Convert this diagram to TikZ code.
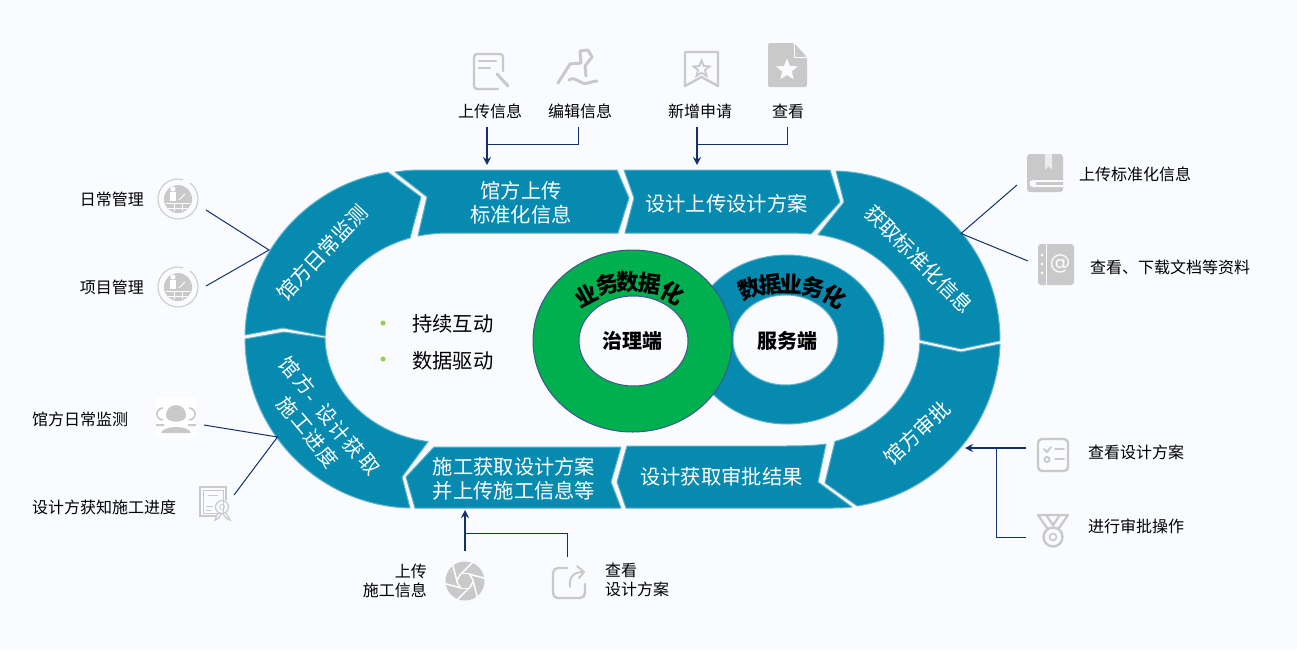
\documentclass[tikz,border=0pt]{standalone}
\usepackage{fontspec}
\usetikzlibrary{arrows.meta,shapes.geometric}
\setmainfont{Noto Sans CJK SC}
\newfontfamily\cjk{Noto Sans CJK SC}
\definecolor{bgc}{HTML}{F9FBFF}
\definecolor{teal0}{HTML}{078AAF}
\definecolor{tealedge}{HTML}{5FB2CC}
\definecolor{ringgreen}{HTML}{00B04F}
\definecolor{ringedge}{HTML}{3F5596}
\definecolor{navy0}{HTML}{12306B}
\definecolor{icongray}{HTML}{C9C9C9}
\definecolor{bulletgreen}{HTML}{92D050}
\tikzset{
  seg/.style={fill=teal0,draw=tealedge,line width=1pt,line join=round},
  segtext/.style={font=\cjk\fontsize{20.3}{24}\selectfont,text=white,inner sep=0pt,align=center},
  segchar/.style={font=\cjk\fontsize{20}{20}\selectfont,text=white,inner sep=0pt},
  lab/.style={font=\cjk\fontsize{16}{19.5}\selectfont,text=black,inner sep=0pt},
  biglab/.style={font=\cjk\fontsize{20.3}{24}\selectfont,text=black,inner sep=0pt},
  hublab/.style={font=\cjk\bfseries\fontsize{20}{24}\selectfont,text=black,inner sep=0pt},
  arclab/.style={font=\cjk\bfseries\fontsize{22.5}{22.5}\selectfont,text=black,inner sep=0pt},
  conn/.style={draw=navy0,line width=1pt},
  stem/.style={draw=navy0,line width=1.5pt,-{Stealth[length=8pt,width=8pt]}},
  iconl/.style={draw=icongray,line width=2.4pt,line join=round,line cap=round,fill=none},
  iconf/.style={fill=icongray,draw=none},
  starshape/.style={star,star points=5,star point ratio=2.3,inner sep=0pt},
  pics/mgmticon/.style={code={
    \draw[icongray,line width=1pt] (12,-16) arc[start angle=53,end angle=-285,radius=20pt];
    \fill[icongray] (0,0) circle[radius=14pt];
    \fill[white] (-5,-10) circle[radius=2.6pt];
    \fill[white] (-8,-7) rectangle (-2,2);
    \draw[white,line width=0.8pt] (1,1) -- (7,-5);
    \draw[white,line width=1pt] (-12,4.5) -- (12,4.5);
    \draw[white,line width=1pt] (-4,4.5) -- (-4,12) (4,4.5) -- (4,12);
    \draw[white,line width=1pt] (-10,9) -- (10,9);
  }}
}
\begin{document}
\begin{tikzpicture}[x=1pt,y=-1pt]
\useasboundingbox (0,0) rectangle (1297,651);
\fill[bgc] (0,0) rectangle (1297,651);

% stadium segments
\draw[seg] (245,335) arc[start angle=178.6,end angle=98.85,radius=169pt] -- (421,197) -- (410,238)
  arc[start angle=107,end angle=178,x radius=120pt,y radius=106.5pt] -- (283,328) -- cycle;
\draw[seg] (395,172) .. controls (402,171) and (410,170) .. (420,170) -- (617,170) -- (629,198) -- (618,233)
  -- (450,233) .. controls (438,233) and (428,234) .. (418,236) -- (427,197) -- cycle;
\draw[seg] (624,170) -- (830,170) -- (840,202) -- (811,234) .. controls (800,233) and (790,233) .. (780,233) -- (625,233) -- (634,198) -- cycle;
\draw[seg] (836,171) arc[start angle=88.3,end angle=-0.3,radius=169pt] -- (961,349) -- (920,340)
  arc[start angle=0,end angle=81.4,x radius=120pt,y radius=106.5pt] -- (844,202) -- cycle;
\draw[seg] (1000,344) arc[start angle=-1.7,end angle=-81.15,radius=169pt] -- (825,483) -- (835,441.4)
  arc[start angle=-73,end angle=-2,x radius=120pt,y radius=106.5pt] -- (961,352) -- cycle;
\draw[seg] (627,446) -- (780,446) .. controls (795,446) and (812,446) .. (826,444) -- (818,482) -- (852,507)
  .. controls (845,508) and (838,508) .. (828,508) -- (626,508) -- (617,482) -- cycle;
\draw[seg] (434,447) -- (621,447) -- (611,482) -- (621,508) -- (415,508) -- (406,477) -- cycle;
\draw[seg] (245,339) -- (284,332) -- (325,338) arc[start angle=181,end angle=261.9,x radius=120pt,y radius=106.5pt]
  -- (402,477) -- (410,508) arc[start angle=268.6,end angle=180,radius=169pt] -- cycle;

% rings
\fill[teal0,draw=tealedge,line width=1pt] (787,339.5) ellipse[x radius=97pt,y radius=84.5pt];
\fill[bgc,draw=tealedge,line width=1pt] (785.5,340) ellipse[x radius=52.5pt,y radius=45pt];
\fill[ringgreen,draw=ringedge,line width=1pt] (632.5,341) ellipse[x radius=99.5pt,y radius=91pt];
\fill[bgc,draw=ringedge,line width=1pt] (633.5,341) ellipse[x radius=54.5pt,y radius=45pt];

% segment labels
\node[segtext] (s2) at (521,203) {馆方上传\\标准化信息};
\node[segtext] (s3) at (726.5,204) {设计上传设计方案};
\node[segtext,rotate=-45] (s4) at (919,259) {获取标准化信息};
\node[segtext,rotate=43] (s5) at (917,433) {馆方审批};
\node[segtext] (s6) at (721.5,477) {设计获取审批结果};
\node[segtext] (s7) at (514,479) {施工获取设计方案\\并上传施工信息等};
\node[segtext,rotate=47] (s1) at (322,253) {馆方日常监测};
\foreach \c/\x/\y [count=\i] in {馆/290/367,方/305/384,设/327/414,计/340/431,获/354/447,取/369/465,施/288/407,工/302/423,进/315/440,度/328/457}
  \node[segchar,rotate=-50] (s8c\i) at (\x,\y) {\c};
\node[segchar,rotate=-50] (s8d) at (308,400) {-};

% ring labels
\foreach \c/\x/\y/\r [count=\i] in {业/586/295/28,务/607/284/14,数/628/282/0,据/650/284/-8,化/672/293/-28}
  \node[arclab,rotate=\r] (ga\i) at (\x,\y) {\c};
\foreach \c/\x/\y/\r [count=\i] in {数/750/288/22,据/770/285/8,业/791/284/-2,务/813/287/-12,化/835/297/-30}
  \node[arclab,rotate=\r] (ba\i) at (\x,\y) {\c};
\node[hublab] (hubg) at (632,341) {治理端};
\node[hublab] (hubb) at (787,341) {服务端};

% bullets
\fill[bulletgreen] (383,323) circle[radius=2.5pt] (383,359) circle[radius=2.5pt];
\node[biglab,anchor=west] (b1) at (412,324) {持续互动};
\node[biglab,anchor=west] (b2) at (412,361) {数据驱动};

% labels
\node[lab] (t1) at (490,111) {上传信息};
\node[lab] (t2) at (580,111) {编辑信息};
\node[lab] (t3) at (700,111) {新增申请};
\node[lab] (t4) at (788,111) {查看};
\node[lab,anchor=east] (l1) at (144,199) {日常管理};
\node[lab,anchor=east] (l2) at (144,287) {项目管理};
\node[lab,anchor=west] (l3) at (32,419) {馆方日常监测};
\node[lab,anchor=west] (l4) at (32,507) {设计方获知施工进度};
\node[lab,anchor=west] (r1) at (1079,174) {上传标准化信息};
\node[lab,anchor=west] (r2) at (1090,267) {查看、下载文档等资料};
\node[lab,anchor=west] (r3) at (1088,452) {查看设计方案};
\node[lab,anchor=west] (r4) at (1088,526) {进行审批操作};
\node[lab,anchor=east,align=right] (u1) at (427,581) {上传\\施工信息};
\node[lab,anchor=west,align=left] (u2) at (605,580) {查看\\设计方案};

% connectors
\coordinate (c1) at (487,127); \coordinate (c1t) at (487,165); \coordinate (c1j) at (487,144); \coordinate (c2) at (578,127);
\coordinate (c3) at (697,127); \coordinate (c3t) at (697,165); \coordinate (c3j) at (697,144); \coordinate (c4) at (787,127);
\draw[stem] (c1) -- (c1t);
\draw[conn] (c2) |- (c1j);
\draw[stem] (c3) -- (c3t);
\draw[conn] (c4) |- (c3j);
\coordinate (d0) at (269,250); \coordinate (d1) at (206,210); \coordinate (d2) at (206,286);
\draw[conn] (d1) -- (d0) -- (d2);
\coordinate (e0) at (277.5,437); \coordinate (e1) at (204,425); \coordinate (e2) at (234,495);
\draw[conn] (e1) -- (e0) -- (e2);
\coordinate (f0) at (961,233.5); \coordinate (f1) at (1017,185); \coordinate (f2) at (1028,261);
\draw[conn] (f1) -- (f0) -- (f2);
\coordinate (g1) at (1026,448); \coordinate (g1t) at (965,448); \coordinate (gj) at (996,448); \coordinate (g2) at (1026,537);
\draw[stem] (g1) -- (g1t);
\draw[conn] (g2) -| (gj);
\coordinate (h1) at (465,551); \coordinate (h1t) at (465,510); \coordinate (hj) at (465,533); \coordinate (h2) at (567,557);
\draw[stem] (h1) -- (h1t);
\draw[conn] (h2) |- (hj);

% icon: document with pen
\draw[iconl,rounded corners=3pt] (503,71) -- (503,54) -- (474,54) -- (474,89) -- (498,89);
\draw[iconl] (479,61) -- (496,61) (479,68) -- (490,68);
\draw[iconl,line width=3pt] (497,74) -- (508,86);
% icon: brush
\draw[iconl,line width=3pt] (558,83) -- (570,64) -- (581,63) -- (580,51) -- (588,50) -- (592,57) -- (585,66) -- (586,76);
\draw[iconl,line width=3pt] (569,80) .. controls (576,75) and (580,86) .. (588,83) .. controls (592,82) and (594,81) .. (597,81);
% icon: bookmark
\draw[iconl,line cap=butt] (685,52) -- (718,52) -- (718,86) -- (701.5,77) -- (685,86) -- cycle;
\node[starshape,draw=icongray,line width=1.8pt,minimum size=17pt] (istar1) at (701.5,69) {};
% icon: file
\fill[icongray,rounded corners=2pt] (768,43) -- (794,43) -- (807,57) -- (807,87) -- (768,87) -- cycle;
\draw[bgc,line width=1pt] (794,43) -- (794,57) -- (807,57);
\node[starshape,fill=bgc,minimum size=23pt] (istar2) at (787,70) {};
% icons: management
\pic at (178,199) {mgmticon};
\pic at (178,287) {mgmticon};
% icon: people
\fill[white] (156,398) rectangle (196,438);
\fill[icongray] (176,415) circle[radius=10pt];
\fill[white] (167,418) .. controls (169,423) and (183,423) .. (185,418) .. controls (184,428) and (168,428) .. (167,418) -- cycle;
\fill[icongray] (161,433) .. controls (163,425) and (189,425) .. (191,433) -- cycle;
\draw[icongray,line width=1.6pt] (163,408) arc[start angle=90,end angle=270,radius=6pt];
\draw[icongray,line width=1.6pt] (189,408) arc[start angle=90,end angle=-90,radius=6pt];
\fill[icongray] (156,424) rectangle (164,426) (188,424) rectangle (196,426);
% icon: certificate
\draw[icongray,line width=1.2pt] (216,516) -- (200,516) -- (200,487) -- (226,487) -- (226,500);
\draw[icongray,line width=0.7pt] (203,490) rectangle (223,513);
\draw[icongray,line width=0.8pt] (208,495) -- (218,495) (206,506) -- (213,506) (206,510) -- (211,510);
\draw[icongray,line width=1.2pt] (222,507) circle[radius=6.5pt];
\draw[icongray,line width=0.8pt] (222,507) circle[radius=2.5pt];
\draw[icongray,line width=1.2pt] (218,513) -- (215,520) -- (219,518) -- (221,514) (226,513) -- (230,520) -- (226,518) -- (223,514);
% icon: book
\fill[icongray,rounded corners=3pt] (1027,154) rectangle (1063,192);
\fill[bgc] (1033,180) -- (1063,180) -- (1063,187) -- (1033,187) arc[start angle=270,end angle=90,radius=3.5pt] -- cycle;
\fill[icongray] (1036,182) -- (1063,182) -- (1063,185) -- (1036,185) -- cycle;
\fill[bgc!70!icongray] (1045,154) -- (1052,154) -- (1052,170) -- (1048.5,166) -- (1045,170) -- cycle;
% icon: address book
\fill[icongray,rounded corners=3pt] (1038,244) rectangle (1074,285);
\draw[bgc,line width=1pt] (1046,244) -- (1046,285);
\fill[bgc] (1042,255) circle[radius=1.5pt] (1042,264) circle[radius=1.5pt] (1042,273) circle[radius=1.5pt];
\node[font=\fontspec{DejaVu Sans}\fontsize{21}{21}\selectfont,text=bgc,inner sep=0pt] (iat) at (1060,264) {@};
% icon: check list
\draw[iconl,rounded corners=4pt] (1038,439) rectangle (1068,471);
\draw[iconl,line width=1.8pt] (1044,449) -- (1047,452) -- (1051,447) (1055,449) -- (1064,449) (1055,459) -- (1064,459);
\draw[iconl,line width=1.8pt] (1047,459.5) circle[radius=2.6pt];
% icon: medal
\draw[iconl,line width=2.2pt] (1047,528) -- (1038,515) -- (1068,515) -- (1059,528) (1046,515) -- (1053,525) -- (1060,515);
\draw[iconl] (1053,537) circle[radius=9.5pt];
\draw[iconl,line width=1.6pt] (1053,537) circle[radius=3.5pt];
% icon: aperture
\fill[icongray] (465,581) circle[radius=19.5pt];
\begin{scope}[shift={(465,581)}]
  \foreach \a in {0,60,...,300}
    \draw[bgc,line width=1.6pt] (\a:8) -- ++(\a+75:17.5);
  \foreach \a in {0,60,...,300}
    \draw[bgc,line width=1.6pt] (\a:8.5) -- (\a+60:8.5);
\end{scope}
% icon: share
\draw[iconl,rounded corners=5pt] (567,568) -- (553,568) -- (553,598) -- (585,598) -- (585,584);
\draw[iconl,line width=2pt] (570,587) .. controls (569,576) and (574,572) .. (584,572);
\draw[iconl,line width=2pt] (577,566) -- (584,572) -- (579,578);
\end{tikzpicture}
\end{document}
